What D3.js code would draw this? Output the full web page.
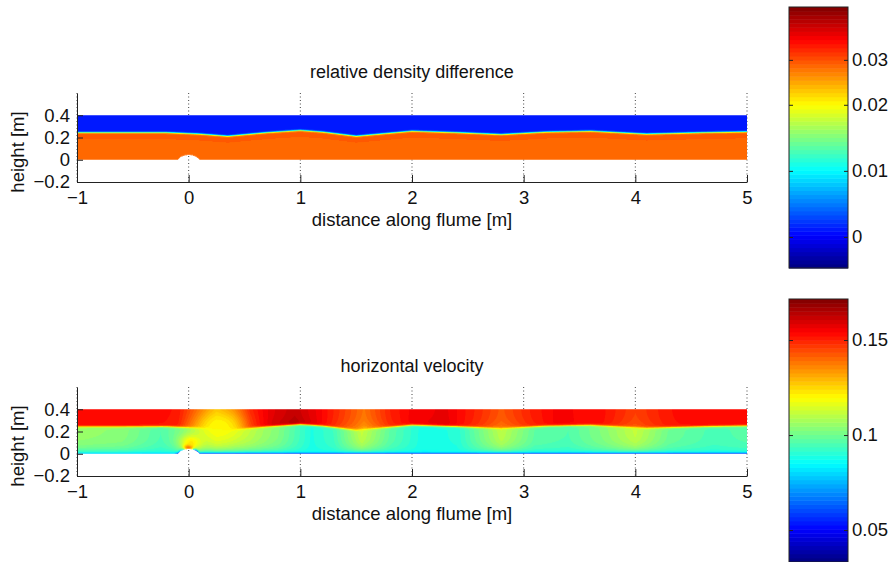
<!DOCTYPE html>
<html>
<head>
<meta charset="utf-8">
<script src="https://cdn.jsdelivr.net/npm/d3@7"></script>
<style>
    body { margin: 0; background: #fff; }
    svg text { font-family: "Liberation Sans", Arial, sans-serif; fill: #111; }
</style>
</head>
<body>
<svg id="fig" width="889" height="562"></svg>
<script>

var xTicks = [-1, 0, 1, 2, 3, 4, 5];
var yTicks = [-0.2, 0, 0.2, 0.4];

// obstacle on the flume bed
var bumpX = [-0.1, -0.07, -0.035, 0, 0.035, 0.07, 0.1];
var bumpH = [0, 0.026, 0.04, 0.045, 0.04, 0.026, 0];

// interface height along the flume
var ifaceX = [-1, -0.2, 0.1, 0.35, 0.7, 1.0, 1.2, 1.5, 2.0, 2.4, 2.8, 3.2, 3.6, 4.1, 4.6, 5];
var ifaceH = [0.245, 0.245, 0.232, 0.213, 0.245, 0.265, 0.25, 0.213, 0.258, 0.245, 0.228, 0.25, 0.258, 0.232, 0.245, 0.252];

// relative density difference
var rhoUpper = 0.001;
var rhoLower = 0.026;
var rhoNearIface = 0.0267;
var rhoRange = [-0.0047, 0.0348];
var rhoTicks = [0, 0.01, 0.02, 0.0268];

// horizontal velocity
var uTopX = [-1, -0.5, -0.1, 0.1, 0.25, 0.4, 0.55, 0.75, 0.95, 1.15, 1.35, 1.57, 1.8, 2.0, 2.3, 2.6, 2.8, 3.05, 3.3, 3.7, 4.0, 4.3, 4.6, 5];
var uTop = [0.154, 0.154, 0.152, 0.14, 0.13, 0.137, 0.15, 0.158, 0.162, 0.156, 0.148, 0.139, 0.15, 0.155, 0.157, 0.149, 0.143, 0.15, 0.155, 0.153, 0.146, 0.152, 0.154, 0.154];
var uLowX = [-1, -0.6, -0.25, -0.05, 0.25, 0.55, 0.8, 1.1, 1.3, 1.55, 1.8, 2.1, 2.4, 2.8, 3.1, 3.4, 3.7, 4.0, 4.3, 4.7, 5];
var uLow = [0.106, 0.104, 0.096, 0.102, 0.116, 0.11, 0.103, 0.089, 0.094, 0.112, 0.098, 0.088, 0.09, 0.111, 0.098, 0.096, 0.103, 0.112, 0.1, 0.095, 0.097];
var uNearBed = 0.087;
var uBlobs = [
    {x: 0.0, y: 0.06, sx: 0.03, sy: 0.018, u: 0.16, k: 1},
    {x: 0.02, y: 0.1, sx: 0.07, sy: 0.05, u: 0.125, k: 0.9},
    {x: 0.28, y: 0.25, sx: 0.14, sy: 0.09, u: 0.12, k: 0.95}
];
var wallX = [-1, -0.13, -0.1, -0.03, 0.03, 0.06, 5];
var wallS = [0.35, 0.35, 1, 0, 0, 1, 1];
var uWall = 0.045;
var uRange = [0.0332, 0.1716];
var uTicks = [0.05, 0.1, 0.15];


function jet(t) {
    var f = function (v) { return Math.max(0, Math.min(1, v)); };
    return [f(1.5 - Math.abs(4 * t - 3)), f(1.5 - Math.abs(4 * t - 2)), f(1.5 - Math.abs(4 * t - 1))];
}

function jetLevel(t) {
    var k = Math.max(0, Math.min(63, Math.floor(t * 64)));
    return jet((k + 0.5) / 64);
}

var bed = d3.scaleLinear().domain(bumpX).range(bumpH).clamp(true);
var iface = d3.scaleLinear().domain(ifaceX).range(ifaceH).clamp(true);
var topProfile = d3.scaleLinear().domain(uTopX).range(uTop).clamp(true);
var lowProfile = d3.scaleLinear().domain(uLowX).range(uLow).clamp(true);
var wallProfile = d3.scaleLinear().domain(wallX).range(wallS).clamp(true);

function sigmoid(z) { return 1 / (1 + Math.exp(-z)); }

function densityAt(x, y, b) {
    var h = iface(x);
    var s = sigmoid((y - h) / 0.004);
    var lower = rhoLower + (rhoNearIface - rhoLower) * Math.exp(-Math.max(0, h - y) / 0.04);
    return lower * (1 - s) + rhoUpper * s;
}

function velocityAt(x, y, b) {
    var h = iface(x);
    var s = sigmoid((y - h) / 0.005);
    var top = topProfile(x);
    top = top + (top - uTop[0]) * 0.6 * Math.exp(-Math.max(0, y - h) / 0.05);
    var low = lowProfile(x);
    low = low - (low - uNearBed) * Math.exp(-(y - b) / 0.045);
    var v = low * (1 - s) + top * s;
    uBlobs.forEach(function (d) {
        var w = d.k * Math.exp(-((x - d.x) * (x - d.x) / (2 * d.sx * d.sx) + (y - d.y) * (y - d.y) / (2 * d.sy * d.sy)));
        v = v + (d.u - v) * w;
    });
    var wl = wallProfile(x) * Math.exp(-(y - b) / 0.007);
    return v + (uWall - v) * wl;
}


function FieldPlot(svg, dy, title, range, cbRange, cbTicks, valueAt) {
    var self = this;

    self.svg = svg;
    self.dy = dy;
    self.title = title;
    self.range = range;
    self.cbRange = cbRange;
    self.cbTicks = cbTicks;
    self.valueAt = valueAt;

    self.init();
}

FieldPlot.prototype.init = function () {
    var self = this;

    self.scaleX = d3.scaleLinear()
        .domain([-1, 5])
        .range([77, 747]);

    self.scaleY = d3.scaleLinear()
        .domain([-0.2, 0.6])
        .range([182 + self.dy, 93 + self.dy]);

    self.scaleC = d3.scaleLinear()
        .domain(self.range)
        .range([0, 1]);

    self.scaleCb = d3.scaleLinear()
        .domain(self.range)
        .range(self.cbRange);

    self.g = self.svg.append('g');
};

FieldPlot.prototype.drawAxes = function () {
    var self = this;
    var g = self.g;

    // dotted x grid
    g.selectAll('.grid')
        .data(xTicks)
        .enter().append('line')
        .attr('x1', function (d) { return self.scaleX(d); })
        .attr('x2', function (d) { return self.scaleX(d); })
        .attr('y1', self.scaleY(0.6))
        .attr('y2', self.scaleY(-0.2))
        .attr('stroke', '#444')
        .attr('stroke-width', 1)
        .attr('stroke-dasharray', '1,2.5');

    var xAxis = g.append('g')
        .attr('transform', 'translate(0,' + self.scaleY(-0.2) + ')')
        .call(d3.axisBottom(self.scaleX).tickValues(xTicks).tickFormat(d3.format('d'))
            .tickSizeInner(-7).tickSizeOuter(0).tickPadding(9));

    var yAxis = g.append('g')
        .attr('transform', 'translate(' + self.scaleX(-1) + ',0)')
        .call(d3.axisLeft(self.scaleY).tickValues(yTicks).tickFormat(d3.format('~g'))
            .tickSizeInner(-6).tickSizeOuter(0).tickPadding(7));

    [xAxis, yAxis].forEach(function (a) {
        a.selectAll('path, line').attr('stroke', '#222');
        a.selectAll('text').attr('font-size', 18.5).attr('fill', '#111')
            .attr('font-family', '"Liberation Sans", Arial, sans-serif');
    });

    g.append('text')
        .attr('x', (self.scaleX(-1) + self.scaleX(5)) / 2)
        .attr('y', 78 + self.dy)
        .attr('text-anchor', 'middle')
        .attr('font-size', 18)
        .text(self.title);

    g.append('text')
        .attr('x', (self.scaleX(-1) + self.scaleX(5)) / 2)
        .attr('y', 226 + self.dy)
        .attr('text-anchor', 'middle')
        .attr('font-size', 18.5)
        .text('distance along flume [m]');

    g.append('text')
        .attr('transform', 'translate(24,' + (152 + self.dy) + ') rotate(-90)')
        .attr('text-anchor', 'middle')
        .attr('font-size', 18.5)
        .text('height [m]');
};

FieldPlot.prototype.drawField = function () {
    var self = this;

    var x0 = self.scaleX(-1), x1 = self.scaleX(5);
    var yTop = self.scaleY(0.4), yBot = self.scaleY(0);
    var ss = 2;
    var w = Math.round((x1 - x0) * ss), h = Math.round((yBot - yTop) * ss);

    var canvas = document.createElement('canvas');
    canvas.width = w;
    canvas.height = h;
    var ctx = canvas.getContext('2d');
    var img = ctx.createImageData(w, h);

    for (var j = 0; j < h; j++) {
        var yv = self.scaleY.invert(yTop + (j + 0.5) * (yBot - yTop) / h);
        for (var i = 0; i < w; i++) {
            var xv = self.scaleX.invert(x0 + (i + 0.5) * (x1 - x0) / w);
            var b = bed(xv);
            var p = (j * w + i) * 4;
            if (yv < b) { img.data[p + 3] = 0; continue; }
            var c = jetLevel(self.scaleC(self.valueAt(xv, yv, b)));
            img.data[p] = Math.round(c[0] * 255);
            img.data[p + 1] = Math.round(c[1] * 255);
            img.data[p + 2] = Math.round(c[2] * 255);
            img.data[p + 3] = 255;
        }
    }
    ctx.putImageData(img, 0, 0);

    self.g.insert('image', 'g')
        .attr('x', x0)
        .attr('y', yTop)
        .attr('width', x1 - x0)
        .attr('height', yBot - yTop)
        .attr('preserveAspectRatio', 'none')
        .attr('href', canvas.toDataURL());
};

FieldPlot.prototype.drawColorbar = function () {
    var self = this;
    var g = self.g.append('g');
    var cx = 789, cw = 59;
    var d0 = self.range[0], d1 = self.range[1];

    var levels = d3.range(64).map(function (k) {
        return {lo: d0 + (d1 - d0) * k / 64, hi: d0 + (d1 - d0) * (k + 1) / 64, c: jet((k + 0.5) / 64)};
    });

    g.selectAll('.lvl')
        .data(levels)
        .enter().append('rect')
        .attr('x', cx)
        .attr('width', cw)
        .attr('y', function (d) { return self.scaleCb(d.hi); })
        .attr('height', function (d) { return self.scaleCb(d.lo) - self.scaleCb(d.hi) + 0.5; })
        .attr('fill', function (d) { return d3.rgb(d.c[0] * 255, d.c[1] * 255, d.c[2] * 255); });

    g.append('rect')
        .attr('x', cx)
        .attr('y', self.cbRange[1])
        .attr('width', cw)
        .attr('height', self.cbRange[0] - self.cbRange[1])
        .attr('fill', 'none')
        .attr('stroke', '#222')
        .attr('stroke-width', 1);

    var right = g.append('g')
        .attr('transform', 'translate(' + (cx + cw) + ',0)')
        .call(d3.axisRight(self.scaleCb).tickValues(self.cbTicks).tickFormat(d3.format('.2~f'))
            .tickSizeInner(-4).tickSizeOuter(0).tickPadding(4));
    var left = g.append('g')
        .attr('transform', 'translate(' + cx + ',0)')
        .call(d3.axisLeft(self.scaleCb).tickValues(self.cbTicks).tickFormat('')
            .tickSizeInner(-4).tickSizeOuter(0));

    [right, left].forEach(function (a) {
        a.select('.domain').remove();
        a.selectAll('line').attr('stroke', '#222');
        a.selectAll('text').attr('font-size', 18.5).attr('fill', '#111')
            .attr('font-family', '"Liberation Sans", Arial, sans-serif');
    });
};


var svg = d3.select('#fig');

var densityPlot = new FieldPlot(svg, 0, 'relative density difference', rhoRange, [268, 7], rhoTicks, densityAt);
densityPlot.drawAxes();
densityPlot.drawField();
densityPlot.drawColorbar();

var velocityPlot = new FieldPlot(svg, 294, 'horizontal velocity', uRange, [562, 299], uTicks, velocityAt);
velocityPlot.drawAxes();
velocityPlot.drawField();
velocityPlot.drawColorbar();

</script>
</body>
</html>
